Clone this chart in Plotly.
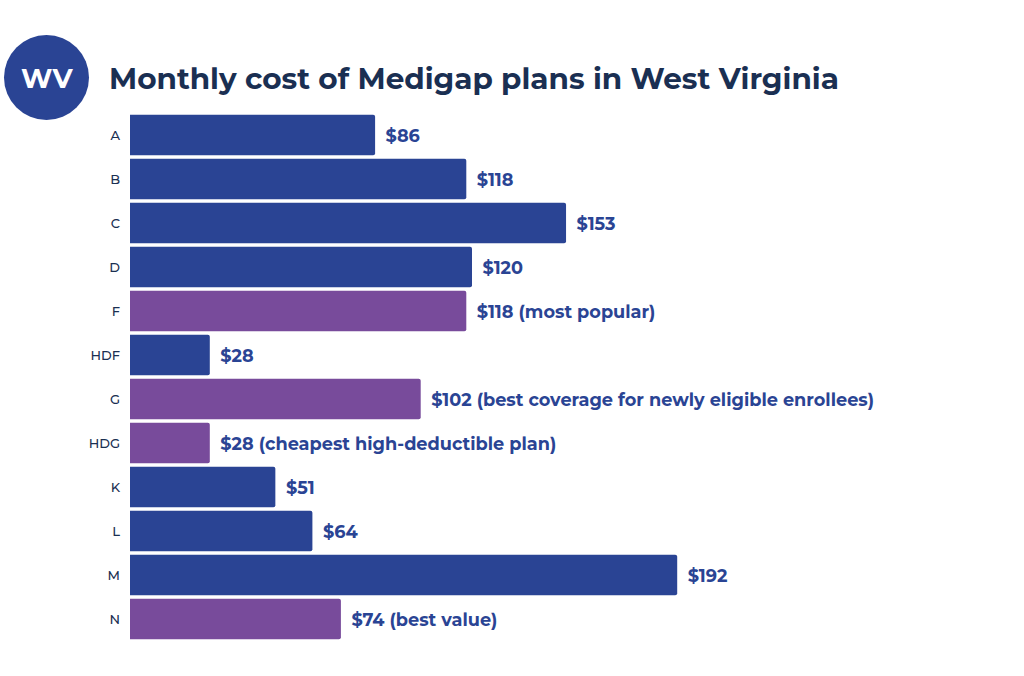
import plotly.graph_objects as go

plans = ["A","B","C","D","F","HDF","G","HDG","K","L","M","N"]
costs = [86,118,153,120,118,28,102,28,51,64,192,74]
notes = ["","","",""," (most popular)",""," (best coverage for newly eligible enrollees)"," (cheapest high-deductible plan)","","",""," (best value)"]
highlight = [False,False,False,False,True,False,True,True,False,False,False,True]
labels = [f"\u00a0\u2009${c}{n}" for c,n in zip(costs,notes)]
colors = ["#784b9b" if h else "#2a4494" for h in highlight]
FONT = "Montserrat, Lato, Open Sans"

fig = go.Figure(go.Bar(y=plans,x=costs,orientation="h",marker=dict(color=colors,cornerradius=2,line_width=0),
    text=labels,textposition="outside",cliponaxis=False,
    textfont=dict(family=FONT,size=17.7,color="#2a4494",weight="bold"),width=0.92))
fig.update_layout(width=1024,height=676,autosize=False,margin=dict(l=0,r=0,t=0,b=0),
    paper_bgcolor="white",plot_bgcolor="white",showlegend=False,
    xaxis=dict(domain=[130/1024,1],range=[0,(1024-130)/2.85],visible=False),
    yaxis=dict(domain=[1-641/676,1-113/676],autorange="reversed",showgrid=False,showline=False,ticks="",
        tickfont=dict(family=FONT,size=13,color="#1a2f52",weight=500),ticklabelstandoff=9),
    shapes=[dict(type="circle",xref="paper",yref="paper",x0=4/1024,x1=89/1024,y0=1-120/676,y1=1-35/676,fillcolor="#2a4494",line_width=0)],
    annotations=[
      dict(text="<b>WV</b>",xref="paper",yref="paper",x=46.5/1024,y=1-78/676,xanchor="center",yanchor="middle",showarrow=False,font=dict(family=FONT,size=27,color="white")),
      dict(text="<b>Monthly cost of Medigap plans in West Virginia</b>",xref="paper",yref="paper",x=107/1024,y=1-78/676,xanchor="left",yanchor="middle",showarrow=False,font=dict(family=FONT,size=29.5,color="#1a2f52")),
    ])
fig.write_html("out.html",post_script="document.body.style.margin='0';",config={"displayModeBar":False})
